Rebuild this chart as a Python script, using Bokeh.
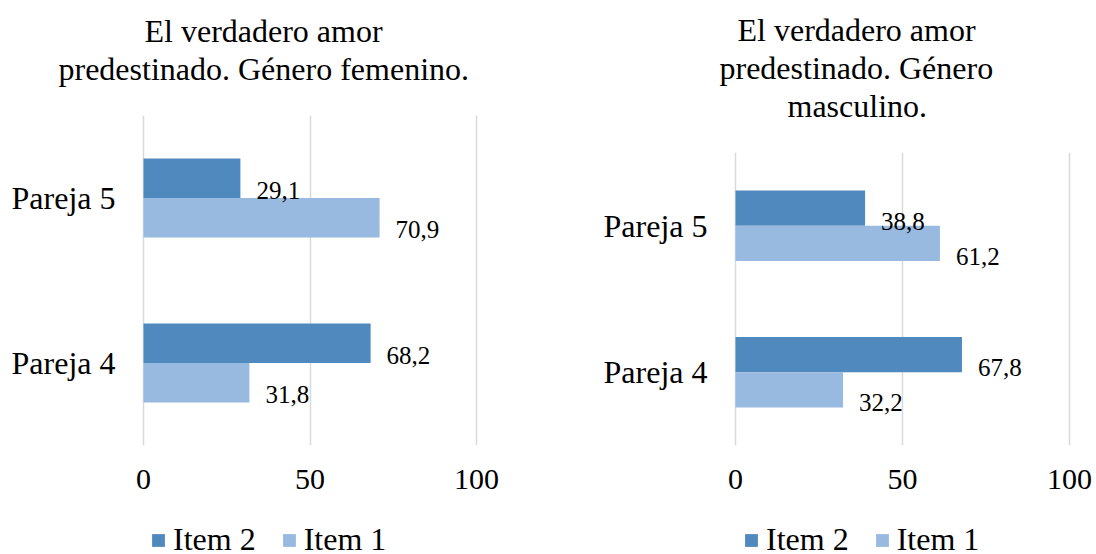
from bokeh.plotting import figure
from bokeh.models import (ColumnDataSource, FactorRange, Range1d, FixedTicker,
                          Legend, LegendItem, Title)
from bokeh.transform import dodge
from bokeh.layouts import row, column
from bokeh.embed import file_html
from bokeh.resources import INLINE
from bokeh.core.properties import value

# ---------------- data ----------------
categories = ["Pareja 4", "Pareja 5"]          # bottom to top
series_names = ["Item 2", "Item 1"]
fem_item2 = [68.2, 29.1]
fem_item1 = [31.8, 70.9]
masc_item2 = [67.8, 38.8]
masc_item1 = [32.2, 61.2]
x_ticks = [0, 50, 100]
fem_title = ["El verdadero amor", "predestinado. Género femenino."]
masc_title = ["El verdadero amor", "predestinado. Género", "masculino."]

# ---------------- style ----------------
FONT = "Liberation Serif"
DARK = "#4F89BD"
LIGHT = "#98B9E0"
GRID = "#D9D9D9"
W = 548
H_CHART = 518
H_LEG = 36
BAR_H = 0.24
FRAME_BOTTOM = 445


def fmt(v):
    return f"{v:.1f}".replace(".", ",")


def no_align(p):
    if "frame_align" in p.properties():
        p.frame_align = False


def make_chart(title_lines, title_offsets, item2, item1, b_left, b_right, b_top, label_dy):
    p = figure(width=W, height=H_CHART, output_backend="svg", toolbar_location=None,
               y_range=FactorRange(*categories), x_range=Range1d(-0.6, 100.6),
               min_border_left=b_left, min_border_right=b_right,
               min_border_top=b_top, min_border_bottom=H_CHART - FRAME_BOTTOM,
               background_fill_color="white", border_fill_color="white")
    no_align(p)
    p.outline_line_color = None
    p.ygrid.visible = False
    p.xgrid.grid_line_color = GRID
    p.xgrid.grid_line_width = 1.5
    p.xgrid.ticker = FixedTicker(ticks=x_ticks)

    src = ColumnDataSource(dict(
        cat=categories,
        item2=item2, item1=item1,
        lab2=[fmt(v) for v in item2], lab1=[fmt(v) for v in item1],
    ))
    p.hbar(y=dodge("cat", BAR_H / 2, range=p.y_range), left=0, right="item2",
           height=BAR_H, color=DARK, line_color=None, source=src)
    p.hbar(y=dodge("cat", -BAR_H / 2, range=p.y_range), left=0, right="item1",
           height=BAR_H, color=LIGHT, line_color=None, source=src)
    for col, lab, sign in (("item2", "lab2", 1), ("item1", "lab1", -1)):
        p.text(x=col, y=dodge("cat", sign * BAR_H / 2, range=p.y_range), text=lab,
               source=src, x_offset=16, y_offset=label_dy, text_font=value(FONT),
               text_font_size="25px", text_color="black", text_baseline="middle",
               text_align="left")

    xa = p.xaxis[0]
    xa.ticker = FixedTicker(ticks=x_ticks)
    xa.axis_line_color = None
    xa.major_tick_line_color = None
    xa.minor_tick_line_color = None
    xa.major_tick_out = 0
    xa.major_tick_in = 0
    xa.major_label_standoff = 24
    xa.major_label_text_font = FONT
    xa.major_label_text_font_size = "30px"
    xa.major_label_text_color = "black"

    ya = p.yaxis[0]
    ya.axis_line_color = None
    ya.major_tick_line_color = None
    ya.minor_tick_line_color = None
    ya.major_tick_out = 0
    ya.major_tick_in = 0
    ya.major_label_standoff = 26
    ya.major_label_text_font = FONT
    ya.major_label_text_font_size = "32px"
    ya.major_label_text_color = "black"

    # title: spacer first (closest to frame), then lines bottom-up
    p.add_layout(Title(text=" ", text_font=FONT, text_font_size="20px", standoff=5),
                 "above")
    for line, off in reversed(list(zip(title_lines, title_offsets))):
        p.add_layout(Title(text=line, align="left", offset=off, standoff=0,
                           text_font=FONT, text_font_size="32px",
                           text_font_style="normal", text_color="black"), "above")
    return p


def make_legend(x_px):
    q = figure(width=W, height=H_LEG, output_backend="svg", toolbar_location=None,
               x_axis_type=None, y_axis_type=None,
               x_range=Range1d(0, 1), y_range=Range1d(0, 1), min_border=0,
               background_fill_color="white", border_fill_color="white")
    no_align(q)
    q.outline_line_color = None
    # legend proxies: one swatch row each, kept outside the (empty) view
    proxy = ColumnDataSource(dict(y=[-10], right=[0]))
    r2 = q.hbar(y="y", right="right", left=0, height=1, color=DARK, line_color=None,
                source=proxy)
    r1 = q.hbar(y="y", right="right", left=0, height=1, color=LIGHT, line_color=None,
                source=proxy)
    legend = Legend(items=[LegendItem(label=series_names[0], renderers=[r2]),
                           LegendItem(label=series_names[1], renderers=[r1])],
                    orientation="horizontal", location=(x_px, -4),
                    label_text_font=FONT, label_text_font_size="32px",
                    label_text_color="black", glyph_width=16, glyph_height=16,
                    label_height=16, label_standoff=7, spacing=25, padding=0, margin=0,
                    border_line_color=None, background_fill_alpha=0)
    q.add_layout(legend)
    return q


left = make_chart(fem_title, [3, -83], fem_item2, fem_item1, 141, 70, 115, 12)
right = make_chart(masc_title, [4, -14, 54], masc_item2, masc_item1, 185, 25, 152, 13)
leg_l = make_legend(150)
leg_r = make_legend(195)

layout = row(column(left, leg_l), column(right, leg_r))
open("out.html", "w").write(file_html(layout, INLINE))
